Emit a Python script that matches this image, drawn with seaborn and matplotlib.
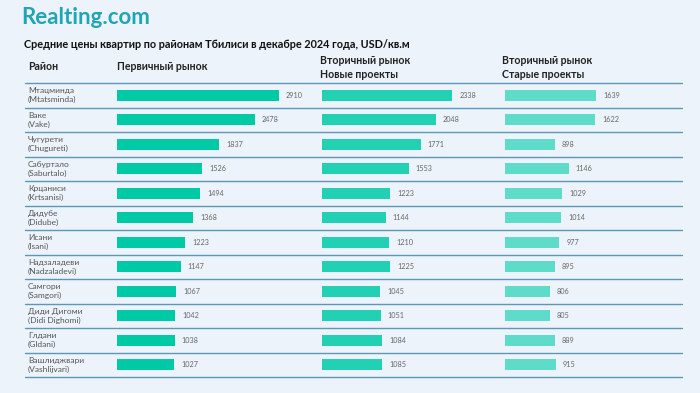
import matplotlib
matplotlib.use("Agg")
import matplotlib.pyplot as plt
import seaborn as sns
import pandas as pd

districts = ["Мтацминда\n(Mtatsminda)", "Ваке\n(Vake)", "Чугурети\n(Chugureti)",
             "Сабуртало\n(Saburtalo)", "Крцаниси\n(Krtsanisi)", "Дидубе\n(Didube)",
             "Исани\n(Isani)", "Надзаладеви\n(Nadzaladevi)", "Самгори\n(Samgori)",
             "Диди Дигоми\n(Didi Dighomi)", "Глдани\n(Gldani)", "Вашлиджвари\n(Vashlijvari)"]
primary = [2910, 2478, 1837, 1526, 1494, 1368, 1223, 1147, 1067, 1042, 1038, 1027]
secondary_new = [2338, 2048, 1771, 1553, 1223, 1144, 1210, 1225, 1045, 1051, 1084, 1085]
secondary_old = [1639, 1622, 898, 1146, 1029, 1014, 977, 895, 806, 805, 889, 915]
col_headers = ["Первичный рынок", "Вторичный рынок\nНовые проекты", "Вторичный рынок\nСтарые проекты"]
title = "Средние цены квартир по районам Тбилиси в декабре 2024 года, USD/кв.м"

sns.set_theme(style="white")
plt.rcParams['font.family'] = ['Lato', 'DejaVu Sans']

W, H = 700, 393
BG = "#EDF3FA"
fig = plt.figure(figsize=(7, 3.93), dpi=100, facecolor=BG)

def fx(px):
    return px / W

def fy(py):
    return 1 - py / H

top_px, bot_px = 83, 377
n = len(districts)

# background axes for row lines and district labels
bg = fig.add_axes([fx(25), fy(bot_px), fx(682 - 25), (bot_px - top_px) / H])
bg.set_xlim(0, 682 - 25)
bg.set_ylim(n - 0.5, -0.5)
bg.axis("off")
for i in range(n + 1):
    bg.axhline(i - 0.5, color="#5A98B8", lw=1.0, clip_on=False)
for i, d in enumerate(districts):
    bg.text(3, i, d, va="center", ha="left",
            fontsize=6.0, color="#555555", linespacing=1.3)

df = pd.DataFrame({"district": districts, "p": primary, "sn": secondary_new, "so": secondary_old})
scale = 0.0557  # px per unit
xmax = 3000
cols = [("p", 117, "#00C9A6"), ("sn", 322, "#22D1B3"), ("so", 505, "#5EDCC9")]
for key, left, color in cols:
    ax = fig.add_axes([fx(left), fy(bot_px), fx(xmax * scale), (bot_px - top_px) / H])
    sns.barplot(data=df, x=key, y="district", orient="h", color=color, width=0.46,
                ax=ax, saturation=1, linewidth=0)
    ax.set_xlim(0, xmax)
    ax.set_ylim(n - 0.5, -0.5)
    ax.axis("off")
    ax.patch.set_alpha(0)
    for c in ax.containers:
        ax.bar_label(c, fmt="%d", padding=5, fontsize=5.2, color="#666666")

# logo
fig.text(fx(21), fy(24), "Realting.com", fontsize=16, fontweight="bold", color="#1FA5B5",
         ha="left", va="baseline")
# title
fig.text(fx(24), fy(45), title, fontsize=7.8, fontweight="bold", color="#111111",
         ha="left", va="center")
# headers
hkw = dict(fontsize=7.6, fontweight="bold", color="#222222", ha="left", va="center")
fig.text(fx(28), fy(67), "Район", **hkw)
fig.text(fx(117), fy(67), col_headers[0], **hkw)
fig.text(fx(320), fy(67.5), col_headers[1], linespacing=1.35, **hkw)
fig.text(fx(502), fy(67.5), col_headers[2], linespacing=1.35, **hkw)

fig.savefig("out.png", dpi=100, facecolor=BG)
